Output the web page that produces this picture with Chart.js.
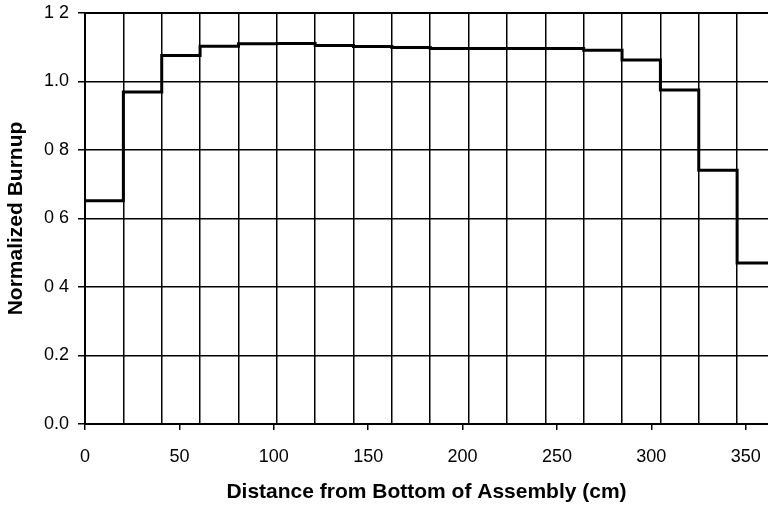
<!DOCTYPE html>
<html>
<head>
<meta charset="utf-8">
<script src="https://cdn.jsdelivr.net/npm/chart.js@4/dist/chart.umd.min.js"></script>
<style>
html,body{margin:0;padding:0;background:#fff;}
#wrap{width:768px;height:505px;position:relative;}
</style>
</head>
<body>
<div id="wrap"><canvas id="c" width="768" height="505"></canvas></div>
<script>
// Bin edges along the assembly (cm)
const binEdges = [0, 20.32, 40.64, 60.96, 81.28, 101.6, 121.92, 142.24, 162.56, 182.88,
                  203.2, 223.52, 243.84, 264.16, 284.48, 304.8, 325.12, 345.44, 365.76];
// Normalized burnup in each bin
const burnup = [0.652, 0.969, 1.076, 1.103, 1.110, 1.111, 1.105, 1.102, 1.099,
                1.096, 1.096, 1.096, 1.096, 1.091, 1.063, 0.975, 0.741, 0.470];
const xTickValues = [0, 50, 100, 150, 200, 250, 300, 350];
const yTickValues = [0, 0.2, 0.4, 0.6, 0.8, 1.0, 1.2];
const yTickLabels = ["0.0", "0.2", "0 4", "0 6", "0 8", "1.0", "1 2"];
const xTitle = "Distance from Bottom of Assembly (cm)";
const yTitle = "Normalized Burnup";

// point i sits on edge i; with stepped 'before' bin value i is held until edge i+1
const points = binEdges.map((x, i) => ({x: x, y: burnup[Math.min(i, burnup.length - 1)]}));

Chart.defaults.font.family = "'Liberation Sans', Arial, sans-serif";
Chart.defaults.color = '#000';

const noPad = s => { s.paddingTop = 0; s.paddingBottom = 0; s.paddingLeft = 0; s.paddingRight = 0; };

new Chart(document.getElementById('c'), {
  type: 'line',
  data: {
    datasets: [{
      data: points,
      stepped: 'before',
      borderColor: '#000',
      borderWidth: 3,
      pointRadius: 0,
      fill: false
    }]
  },
  options: {
    responsive: false,
    animation: false,
    devicePixelRatio: 1,
    layout: {padding: {top: 13, right: 0, left: 0, bottom: 0}},
    plugins: {legend: {display: false}, tooltip: {enabled: false}},
    scales: {
      x: {
        type: 'linear',
        position: 'bottom',
        min: 0,
        max: 361.8,
        afterBuildTicks: s => { s.ticks = xTickValues.map(v => ({value: v})); },
        afterFit: s => { s.height = 81; noPad(s); },
        grid: {drawOnChartArea: false, drawTicks: true, tickLength: 6, color: '#000', lineWidth: 1.5},
        border: {display: true, color: '#000', width: 2},
        ticks: {font: {size: 18}, color: '#000', padding: 16, maxRotation: 0,
                callback: v => String(v)},
        title: {display: true, text: xTitle, font: {size: 21, weight: 'bold'}, color: '#000',
                padding: {top: 0, bottom: 0}}
      },
      x2: {
        type: 'linear',
        position: 'top',
        min: 0,
        max: 361.8,
        afterBuildTicks: s => { s.ticks = binEdges.map(v => ({value: v})); },
        afterFit: s => { s.height = 0; noPad(s); },
        grid: {drawOnChartArea: true, drawTicks: false, color: '#000', lineWidth: 1.5},
        border: {display: true, color: '#000', width: 2},
        ticks: {display: false}
      },
      y: {
        min: 0,
        max: 1.2,
        afterBuildTicks: s => { s.ticks = yTickValues.map(v => ({value: v})); },
        afterFit: s => { s.width = 85; noPad(s); },
        grid: {color: '#000', lineWidth: 1.5, drawTicks: true, tickLength: 7},
        border: {display: true, color: '#000', width: 2},
        ticks: {font: {size: 18}, color: '#000', padding: 9,
                callback: (v, i) => yTickLabels[i]},
        title: {display: true, text: yTitle, font: {size: 21, weight: 'bold'}, color: '#000',
                padding: {top: 4, bottom: 0}}
      }
    }
  }
});
</script>
</body>
</html>
